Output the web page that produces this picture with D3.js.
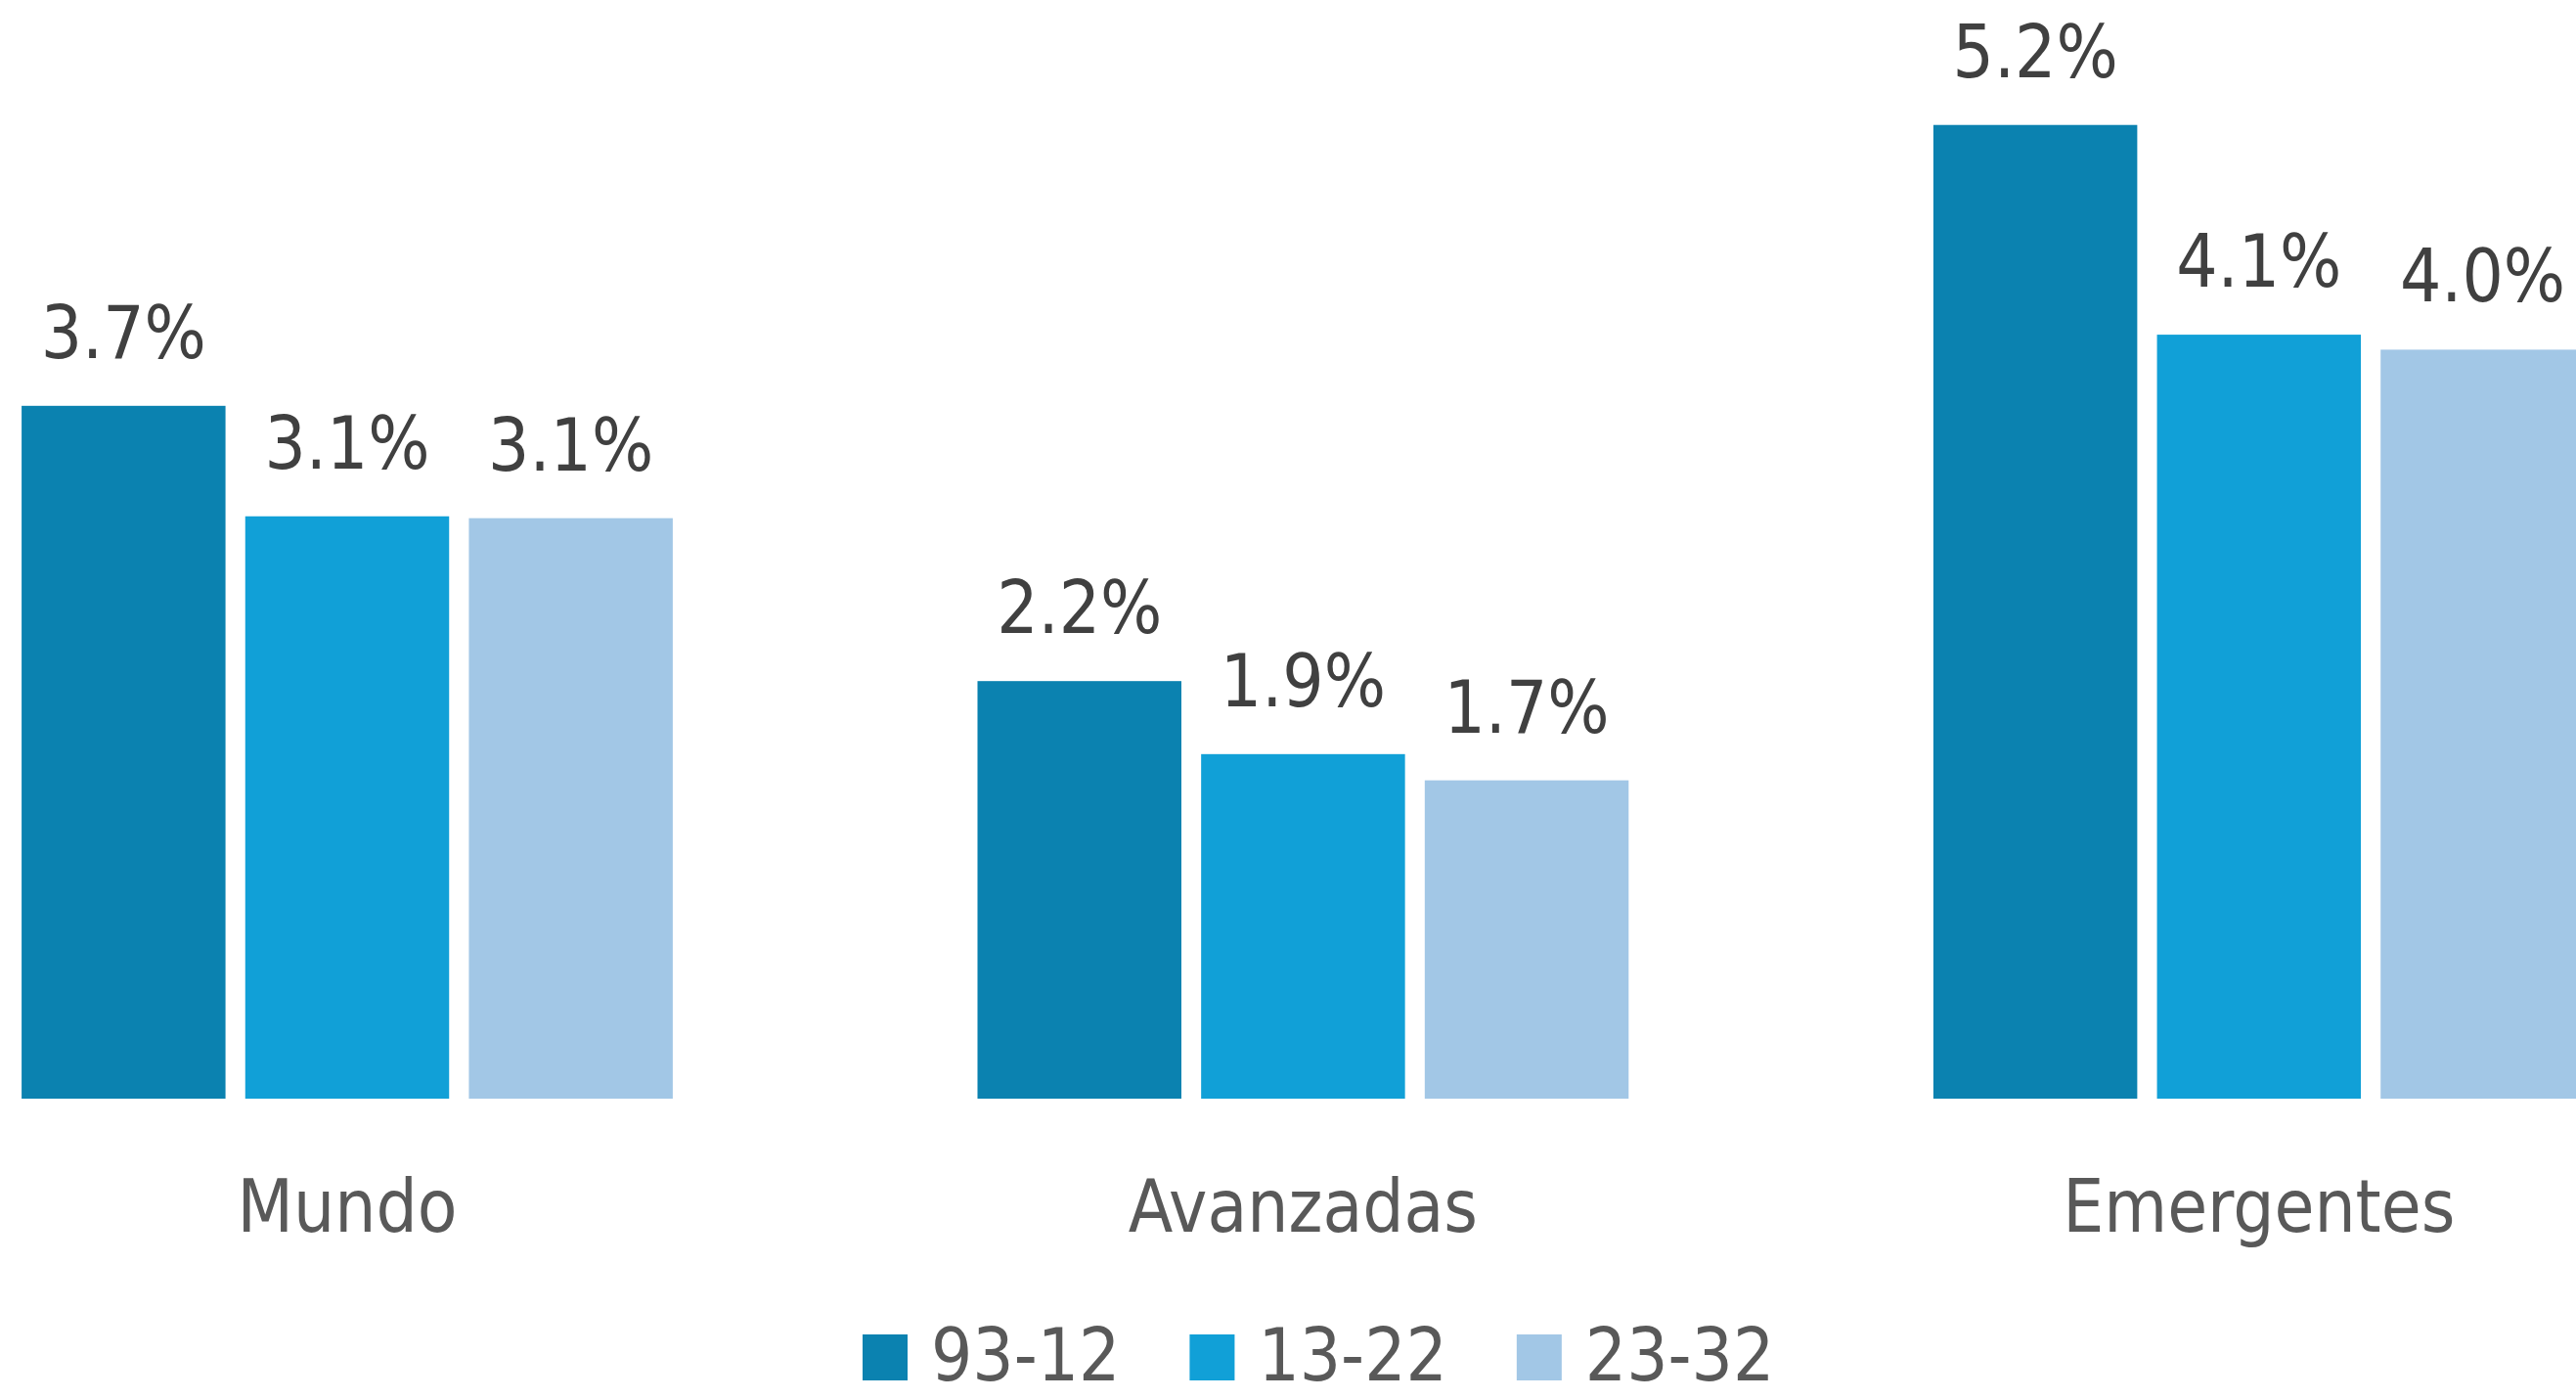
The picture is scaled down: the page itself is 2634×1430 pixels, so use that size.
<!DOCTYPE html>
<html>
<head>
<meta charset="utf-8">
<script src="https://cdn.jsdelivr.net/npm/d3@7"></script>
<style>
  body { margin: 0; background: #fff; }
  text { font-family: "DejaVu Sans Condensed", "DejaVu Sans", sans-serif; font-stretch: condensed; }
</style>
</head>
<body>
<svg id="svg"></svg>
<script>
// regions on the x axis
const categories = ["Mundo", "Avanzadas", "Emergentes"];
// periods (legend)
const periods = ["93-12", "13-22", "23-32"];
// growth per period, one array per period, in category order
const p9312 = [3.70, 2.23, 5.20];
const p1322 = [3.11, 1.84, 4.08];
const p2332 = [3.10, 1.70, 4.00];
const labels9312 = ["3.7%", "2.2%", "5.2%"];
const labels1322 = ["3.1%", "1.9%", "4.1%"];
const labels2332 = ["3.1%", "1.7%", "4.0%"];

const colors = ["#0b82b0", "#11a0d7", "#a2c7e6"];

var width = 2634;
var height = 1430;

var series = [p9312, p1322, p2332];
var seriesLabels = [labels9312, labels1322, labels2332];

var rows = categories.map((c, i) => ({
  cat: c,
  bars: periods.map((p, j) => ({key: p, idx: j, value: series[j][i], label: seriesLabels[j][i]}))
}));

var svg = d3.select("#svg")
    .attr("width", width)
    .attr("height", height)
    .attr("viewBox", [0, 0, width, height]);

// plot area runs a bit past both edges, like the cropped original
var x0 = d3.scaleBand()
    .domain(categories)
    .range([-133.7, 2798.5])
    .paddingInner(0.3188)
    .paddingOuter(0.1594);

var x1 = d3.scaleBand()
    .domain(periods)
    .range([0, x0.bandwidth()])
    .paddingInner(0.0883);

var y = d3.scaleLinear()
    .domain([0, 6])
    .range([1123, 1123 - 6 * 191.4]);

var groups = svg.append("g")
  .selectAll("g")
  .data(rows)
  .join("g")
    .attr("transform", d => "translate(" + x0(d.cat) + ",0)");

groups.selectAll("rect")
  .data(d => d.bars)
  .join("rect")
    .attr("x", d => x1(d.key))
    .attr("y", d => y(d.value))
    .attr("width", x1.bandwidth())
    .attr("height", d => y(0) - y(d.value))
    .attr("fill", d => colors[d.idx]);

groups.selectAll("text.val")
  .data(d => d.bars)
  .join("text")
    .attr("class", "val")
    .attr("x", d => x1(d.key) + x1.bandwidth() / 2)
    .attr("y", d => y(d.value) - 49)
    .attr("text-anchor", "middle")
    .attr("fill", "#404040")
    .style("font-size", "74px")
    .text(d => d.label);

// category axis, no line or ticks
var xAxis = svg.append("g")
    .attr("transform", "translate(0," + y(0) + ")")
    .call(d3.axisBottom(x0).tickSize(0).tickPadding(0));
xAxis.select(".domain").remove();
xAxis.selectAll("text")
    .attr("y", 136)
    .attr("dy", null)
    .attr("fill", "#595959")
    .style("font-size", "74px")
    .style("font-family", null);

// legend (kept just inside the bottom edge)
var legend = svg.append("g").attr("transform", "translate(882,0)");
var lx = 0;
periods.forEach((p, i) => {
  var item = legend.append("g").attr("transform", "translate(" + lx + ",0)");
  item.append("rect")
      .attr("x", 0)
      .attr("y", 1364)
      .attr("width", 46)
      .attr("height", 47)
      .attr("fill", colors[i]);
  var t = item.append("text")
      .attr("x", 70)
      .attr("y", 1411)
      .attr("fill", "#595959")
      .style("font-size", "74px")
      .text(p);
  lx += 70 + t.node().getComputedTextLength() + 71;
});
</script>
</body>
</html>
